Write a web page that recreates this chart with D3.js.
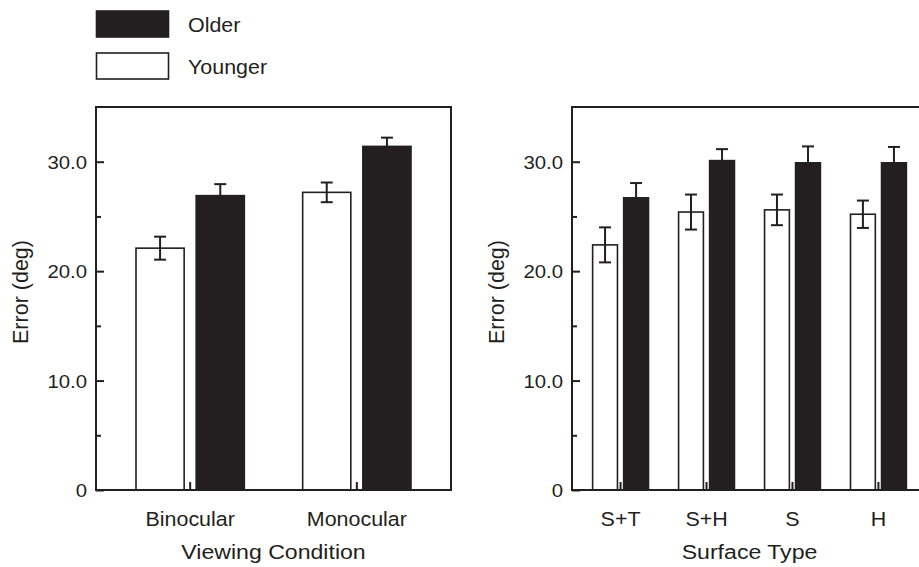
<!DOCTYPE html>
<html>
<head>
<meta charset="utf-8">
<script src="https://cdn.jsdelivr.net/npm/d3@7"></script>
<style>
  body { margin: 0; background: #fff; }
  svg { display: block; font-family: "Liberation Sans", Arial, sans-serif; }
</style>
</head>
<body>
<svg id="chart" width="919" height="567"></svg>
<script>
// data
const groups = ["Younger", "Older"];
const viewCats = ["Binocular", "Monocular"];
const viewYounger = [22.1, 27.2];
const viewYoungerErr = [1.05, 0.9];
const viewOlder = [26.9, 31.4];
const viewOlderErr = [1.05, 0.8];

const surfCats = ["S+T", "S+H", "S", "H"];
const surfYounger = [22.4, 25.4, 25.6, 25.2];
const surfYoungerErr = [1.6, 1.6, 1.4, 1.25];
const surfOlder = [26.7, 30.1, 29.9, 29.9];
const surfOlderErr = [1.35, 1.05, 1.5, 1.45];

const yMajor = [0, 10, 20, 30];
const yMinor = [5, 15, 25];
const yLabels = ["0", "10.0", "20.0", "30.0"];

const ink = "#231f20";
const SX = 1.1; // glyphs in the figure are a bit wider than Liberation Sans

let svg = d3.select("#chart");

// legend
let legend = svg.append("g").attr("class", "legend");
[["Older", ink, 11], ["Younger", "#fff", 53]].forEach(([name, fill, y]) => {
    legend.append("rect")
        .attr("x", 96.5).attr("y", y).attr("width", 72).attr("height", 26)
        .attr("fill", fill).attr("stroke", ink).attr("stroke-width", 1.6);
    legend.append("text")
        .attr("transform", "translate(188," + (y + 21) + ") scale(" + SX + ",1)")
        .attr("font-size", 19.5).attr("fill", ink)
        .text(name);
});

function panel(x0, x1, cats, younger, youngerErr, older, olderErr, title){
    let top = 107, bottom = 490;

    let y = d3.scaleLinear().domain([0, 35]).range([bottom, top]);
    let x = d3.scaleBand().domain(cats).range([x0, x1])
        .paddingInner(0.35).paddingOuter(0.24);
    let xs = d3.scaleBand().domain(groups).range([0, x.bandwidth()]).paddingInner(0.2);

    let g = svg.append("g");

    let rows = [];
    cats.forEach((c, i) => {
        rows.push({cat: c, grp: "Younger", v: younger[i], e: youngerErr[i]});
        rows.push({cat: c, grp: "Older", v: older[i], e: olderErr[i]});
    });

    // y axis, inward ticks
    let yAxis = g.append("g").attr("transform", "translate(" + x0 + ",0)")
        .call(d3.axisLeft(y).tickValues(yMajor).tickSize(-8).tickPadding(9)
            .tickFormat((d, i) => yLabels[i]));
    g.append("g").attr("transform", "translate(" + x0 + ",0)")
        .call(d3.axisLeft(y).tickValues(yMinor).tickSize(-5).tickFormat(""));

    // x axis, inward ticks at category centres
    let xAxis = g.append("g").attr("transform", "translate(0," + bottom + ")")
        .call(d3.axisBottom(x).tickSize(-8).tickPadding(22));

    g.selectAll(".domain").remove();
    g.selectAll(".tick line").attr("stroke", ink).attr("stroke-width", 2);

    yAxis.selectAll("text")
        .attr("x", 0).attr("dy", "0.36em")
        .attr("transform", "translate(-9,0) scale(" + SX + ",1)")
        .attr("font-size", 18.5).attr("fill", ink).attr("font-family", null);
    xAxis.selectAll("text")
        .attr("y", 0).attr("dy", 0)
        .attr("transform", "translate(0,36) scale(" + SX + ",1)")
        .attr("font-size", 19.5).attr("fill", ink).attr("font-family", null);

    // bars
    g.selectAll(".bar").data(rows).enter()
        .append("rect")
        .attr("class", "bar")
        .attr("x", d => x(d.cat) + xs(d.grp))
        .attr("y", d => y(d.v))
        .attr("width", xs.bandwidth())
        .attr("height", d => y(0) - y(d.v))
        .attr("fill", d => d.grp === "Older" ? ink : "#fff")
        .attr("stroke", ink).attr("stroke-width", 1.6);

    // error bars
    let err = g.selectAll(".err").data(rows).enter()
        .append("g").attr("class", "err")
        .attr("stroke", ink).attr("stroke-width", 2);
    let cx = d => x(d.cat) + xs(d.grp) + xs.bandwidth() / 2;
    err.append("line")
        .attr("x1", cx).attr("x2", cx)
        .attr("y1", d => y(d.v - d.e)).attr("y2", d => y(d.v + d.e));
    err.append("line")
        .attr("x1", d => cx(d) - 6).attr("x2", d => cx(d) + 6)
        .attr("y1", d => y(d.v + d.e)).attr("y2", d => y(d.v + d.e));
    err.append("line")
        .attr("x1", d => cx(d) - 6).attr("x2", d => cx(d) + 6)
        .attr("y1", d => y(d.v - d.e)).attr("y2", d => y(d.v - d.e));

    // frame
    g.append("rect")
        .attr("x", x0).attr("y", top)
        .attr("width", x1 - x0).attr("height", bottom - top)
        .attr("fill", "none").attr("stroke", ink).attr("stroke-width", 2);

    // titles
    g.append("text")
        .attr("transform", "translate(" + ((x0 + x1) / 2) + ",559) scale(" + SX + ",1)")
        .attr("text-anchor", "middle").attr("font-size", 21).attr("fill", ink)
        .text(title);
    g.append("text")
        .attr("transform", "translate(" + (x0 - 68) + "," + 292 + ") rotate(-90)")
        .attr("text-anchor", "middle").attr("font-size", 21.5).attr("fill", ink)
        .text("Error (deg)");
}

panel(96, 451, viewCats, viewYounger, viewYoungerErr, viewOlder, viewOlderErr, "Viewing Condition");
panel(572, 927, surfCats, surfYounger, surfYoungerErr, surfOlder, surfOlderErr, "Surface Type");
</script>
</body>
</html>
